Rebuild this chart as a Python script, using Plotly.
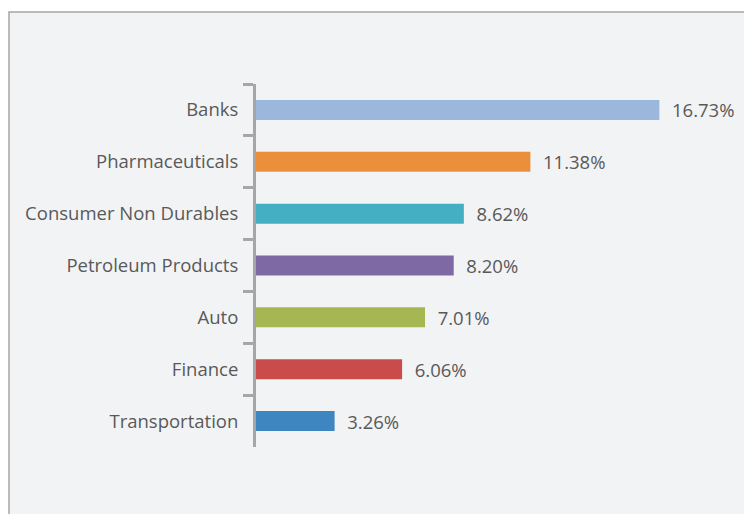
import plotly.graph_objects as go

categories = ["Banks", "Pharmaceuticals", "Consumer Non Durables", "Petroleum Products",
              "Auto", "Finance", "Transportation"]
values = [16.73, 11.38, 8.62, 8.20, 7.01, 6.06, 3.26]
colors = ["#9bb8dc", "#ec8f3c", "#44aec2", "#7f69a5", "#a5b652", "#c94c4a", "#3e86c0"]
labels = [f"{v:.2f}%" for v in values]

W, H = 744, 514
L, R, T, B = 256, 54, 84, 67
pw = W - L - R
ph = H - T - B
FONT = "Open Sans"
FS = 18.5

fig = go.Figure(go.Bar(
    x=values, y=categories, orientation="h",
    marker=dict(color=colors, line=dict(width=0)),
    width=0.385,
    text=["\u00a0\u00a0" + t for t in labels], textposition="outside",
    textfont=dict(color="#595959", size=FS, family=FONT),
    constraintext="none",
    cliponaxis=False,
))

fig.add_shape(type="rect", xref="paper", yref="paper", layer="below",
              x0=(9 - L) / pw, x1=(W + 10 - L) / pw,
              y0=(H - B - (H + 10)) / ph, y1=(H - B - 12) / ph,
              fillcolor="#f2f3f5", line=dict(color="#a6a6a6", width=1.5))

fig.update_layout(
    width=W, height=H,
    margin=dict(l=L, r=R, t=T, b=B),
    paper_bgcolor="white", plot_bgcolor="rgba(0,0,0,0)",
    showlegend=False,
    font=dict(family=FONT, color="#595959", size=FS),
    xaxis=dict(range=[0, 18], visible=False, fixedrange=True),
    yaxis=dict(autorange="reversed", showline=True, linecolor="#a6a6a6", linewidth=3,
               ticks="outside", ticklen=10, tickwidth=3, tickcolor="#a6a6a6",
               tickson="boundaries", showgrid=False, zeroline=False,
               ticklabelstandoff=11,
               tickfont=dict(size=FS, color="#595959", family=FONT)),
)

fig.write_html("out.html")
